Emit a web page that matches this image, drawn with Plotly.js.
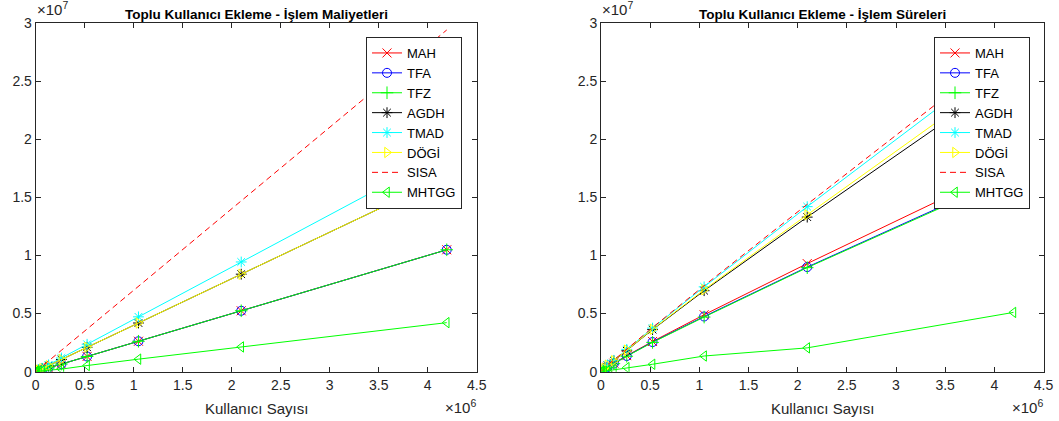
<!DOCTYPE html>
<html>
<head>
<meta charset="utf-8">
<script src="https://cdn.plot.ly/plotly-3.0.1.min.js"></script>
<style>html,body{margin:0;padding:0;background:#fff;}#chart{width:1059px;height:421px;}</style>
</head>
<body>
<div id="chart"></div>
<script>
// Number of users (x values)
const users = [1024, 2048, 4096, 8192, 16384, 32768, 65536, 131072, 262144, 524288, 1048576, 2097152, 4194304];

const seriesNames = ['MAH', 'TFA', 'TFZ', 'AGDH', 'TMAD', 'DÖGİ', 'SISA', 'MHTGG'];

// Left chart: transaction costs (İşlem Maliyetleri)
const costMAH   = [2.6e3, 5.1e3, 1.0e4, 2.0e4, 4.1e4, 8.2e4, 1.64e5, 3.3e5, 6.6e5, 1.31e6, 2.62e6, 5.24e6, 1.049e7];
const costTFA   = [2.6e3, 5.1e3, 1.0e4, 2.0e4, 4.1e4, 8.2e4, 1.64e5, 3.3e5, 6.6e5, 1.31e6, 2.62e6, 5.24e6, 1.049e7];
const costTFZ   = [2.6e3, 5.1e3, 1.0e4, 2.0e4, 4.1e4, 8.2e4, 1.64e5, 3.3e5, 6.6e5, 1.31e6, 2.62e6, 5.24e6, 1.049e7];
const costAGDH  = [4.1e3, 8.2e3, 1.6e4, 3.3e4, 6.6e4, 1.3e5, 2.6e5, 5.2e5, 1.05e6, 2.1e6, 4.19e6, 8.39e6, 1.678e7];
const costTMAD  = [4.6e3, 9.2e3, 1.8e4, 3.7e4, 7.4e4, 1.5e5, 2.95e5, 5.9e5, 1.18e6, 2.36e6, 4.72e6, 9.44e6, 1.887e7];
const costDOGI  = [4.1e3, 8.2e3, 1.6e4, 3.3e4, 6.6e4, 1.3e5, 2.6e5, 5.2e5, 1.05e6, 2.1e6, 4.19e6, 8.39e6, 1.678e7];
const costSISA  = [7.2e3, 1.4e4, 2.9e4, 5.7e4, 1.15e5, 2.3e5, 4.6e5, 9.2e5, 1.84e6, 3.67e6, 7.34e6, 1.47e7, 2.94e7];
const costMHTGG = [1.1e3, 2.1e3, 4.2e3, 8.3e3, 1.7e4, 3.3e4, 6.6e4, 1.3e5, 2.2e5, 5.3e5, 1.08e6, 2.13e6, 4.22e6];

// Right chart: transaction durations (İşlem Süreleri)
const timeMAH   = [7.2e3, 1.4e4, 2.8e4, 5.5e4, 1.05e5, 2.0e5, 3.9e5, 7.3e5, 1.38e6, 2.6e6, 4.9e6, 9.3e6, 1.78e7];
const timeTFA   = [7.0e3, 1.37e4, 2.7e4, 5.3e4, 1.0e5, 1.95e5, 3.8e5, 7.0e5, 1.35e6, 2.55e6, 4.75e6, 9.0e6, 1.70e7];
const timeTFZ   = [6.9e3, 1.35e4, 2.65e4, 5.2e4, 9.9e4, 1.93e5, 3.75e5, 6.9e5, 1.33e6, 2.52e6, 4.7e6, 8.95e6, 1.69e7];
const timeAGDH  = [9.4e3, 1.85e4, 3.6e4, 7.2e4, 1.42e5, 2.8e5, 5.5e5, 9.3e5, 1.8e6, 3.62e6, 6.97e6, 1.33e7, 2.56e7];
const timeTMAD  = [9.8e3, 1.95e4, 3.8e4, 7.5e4, 1.48e5, 2.9e5, 5.8e5, 9.8e5, 1.92e6, 3.75e6, 7.3e6, 1.42e7, 2.76e7];
const timeDOGI  = [9.5e3, 1.9e4, 3.7e4, 7.3e4, 1.44e5, 2.8e5, 5.6e5, 9.5e5, 1.85e6, 3.65e6, 7.05e6, 1.35e7, 2.62e7];
const timeSISA  = [1.0e4, 2.0e4, 3.9e4, 7.7e4, 1.5e5, 3.0e5, 5.9e5, 1.0e6, 1.95e6, 3.8e6, 7.4e6, 1.44e7, 2.82e7];
const timeMHTGG = [1.5e3, 3.0e3, 5.5e3, 1.1e4, 2.1e4, 4.0e4, 8.0e4, 1.6e5, 3.5e5, 6.4e5, 1.35e6, 2.05e6, 5.1e6];

const xTickVals = [0, 5e5, 1e6, 1.5e6, 2e6, 2.5e6, 3e6, 3.5e6, 4e6, 4.5e6];
const xTickText = ['0', '0.5', '1', '1.5', '2', '2.5', '3', '3.5', '4', '4.5'];
const yTickVals = [0, 5e6, 1e7, 1.5e7, 2e7, 2.5e7, 3e7];
const yTickText = ['0', '0.5', '1', '1.5', '2', '2.5', '3'];

const titles = ['Toplu Kullanıcı Ekleme - İşlem Maliyetleri', 'Toplu Kullanıcı Ekleme - İşlem Süreleri'];
const xTitle = 'Kullanıcı Sayısı';

const styles = [
  {color: '#FF0000', symbol: 'x-thin-open', dash: 'solid', mode: 'lines+markers'},
  {color: '#0000FF', symbol: 'circle-open', dash: 'solid', mode: 'lines+markers'},
  {color: '#00FF00', symbol: 'cross-thin-open', dash: 'solid', mode: 'lines+markers'},
  {color: '#000000', symbol: 'asterisk-open', dash: 'solid', mode: 'lines+markers'},
  {color: '#00FFFF', symbol: 'asterisk-open', dash: 'solid', mode: 'lines+markers'},
  {color: '#FFFF00', symbol: 'triangle-right-open', dash: 'solid', mode: 'lines+markers'},
  {color: '#FF0000', symbol: 'circle', dash: '6px,4px', mode: 'lines'},
  {color: '#00FF00', symbol: 'triangle-left-open', dash: 'solid', mode: 'lines+markers'}
];

const leftData = [costMAH, costTFA, costTFZ, costAGDH, costTMAD, costDOGI, costSISA, costMHTGG];
const rightData = [timeMAH, timeTFA, timeTFZ, timeAGDH, timeTMAD, timeDOGI, timeSISA, timeMHTGG];

const traces = [];
function addTraces(dataSets, xa, ya, legendId) {
  dataSets.forEach((vals, i) => {
    const s = styles[i];
    traces.push({
      type: 'scatter', x: users, y: vals, name: seriesNames[i],
      mode: s.mode, xaxis: xa, yaxis: ya, legend: legendId,
      line: {color: s.color, width: 1, dash: s.dash},
      marker: {symbol: s.symbol, size: 9, color: s.color, line: {color: s.color, width: 1}},
      cliponaxis: true
    });
  });
}
addTraces(leftData, 'x', 'y', 'legend');
addTraces(rightData, 'x2', 'y2', 'legend2');

const W = 1059, H = 421;
const fontFam = '"Liberation Sans", Arial, sans-serif';
const axCol = '#262626';

function xAxis(dom, anchor) {
  return {
    domain: dom, anchor: anchor, range: [0, 4.5e6],
    tickvals: xTickVals, ticktext: xTickText,
    ticks: 'inside', ticklen: 5, tickcolor: axCol, tickwidth: 1,
    showline: true, linecolor: axCol, linewidth: 1, mirror: 'allticks',
    showgrid: false, zeroline: false,
    tickfont: {family: fontFam, size: 14, color: axCol}
  };
}
function yAxis(anchor) {
  return {
    domain: [(H - 371.7) / H, (H - 23) / H], anchor: anchor, range: [0, 3e7],
    tickvals: yTickVals, ticktext: yTickText,
    ticks: 'inside', ticklen: 5, tickcolor: axCol, tickwidth: 1,
    showline: true, linecolor: axCol, linewidth: 1, mirror: 'allticks',
    showgrid: false, zeroline: false,
    tickfont: {family: fontFam, size: 14, color: axCol}
  };
}

const legendBase = {
  bgcolor: '#FFFFFF', bordercolor: axCol, borderwidth: 1,
  font: {family: fontFam, size: 13, color: '#000000'},
  xanchor: 'right', yanchor: 'top', tracegroupgap: 0
};

const ann = [];
function addTitles(x0, x1) {
  const cx = (x0 + x1) / 2;
  ann.push({xref: 'paper', yref: 'paper', x: (x0 - 1) / W, y: 1 - 9 / H, xanchor: 'left', yanchor: 'middle',
    text: '×10<sup>7</sup>', showarrow: false, font: {family: fontFam, size: 15, color: axCol}});
  ann.push({xref: 'paper', yref: 'paper', x: (x1 + 1) / W, y: 1 - 406 / H, xanchor: 'right', yanchor: 'middle',
    text: '×10<sup>6</sup>', showarrow: false, font: {family: fontFam, size: 15, color: axCol}});
  ann.push({xref: 'paper', yref: 'paper', x: cx / W, y: 1 - 408 / H, xanchor: 'center', yanchor: 'middle',
    text: xTitle, showarrow: false, font: {family: fontFam, size: 15, color: axCol}});
}
addTitles(35.7, 476.7);
addTitles(601, 1043.5);
ann.push({xref: 'paper', yref: 'paper', x: 256 / W, y: 1 - 14 / H, xanchor: 'center', yanchor: 'middle',
  text: '<b>' + titles[0] + '</b>', showarrow: false, font: {family: fontFam, size: 13.5, color: '#000000'}});
ann.push({xref: 'paper', yref: 'paper', x: 822 / W, y: 1 - 14 / H, xanchor: 'center', yanchor: 'middle',
  text: '<b>' + titles[1] + '</b>', showarrow: false, font: {family: fontFam, size: 13.5, color: '#000000'}});

const layout = {
  width: W, height: H,
  margin: {l: 0, r: 0, t: 0, b: 0},
  paper_bgcolor: '#FFFFFF', plot_bgcolor: '#FFFFFF',
  showlegend: true,
  xaxis: xAxis([35.7 / W, 476.7 / W], 'y'),
  yaxis: yAxis('x'),
  xaxis2: xAxis([601 / W, 1043.5 / W], 'y2'),
  yaxis2: yAxis('x2'),
  legend: Object.assign({}, legendBase, {x: 462 / W, y: 1 - 37 / H}),
  legend2: Object.assign({}, legendBase, {x: 1030 / W, y: 1 - 37 / H}),
  annotations: ann
};

Plotly.newPlot('chart', traces, layout, {staticPlot: true, displayModeBar: false});
</script>
</body>
</html>
